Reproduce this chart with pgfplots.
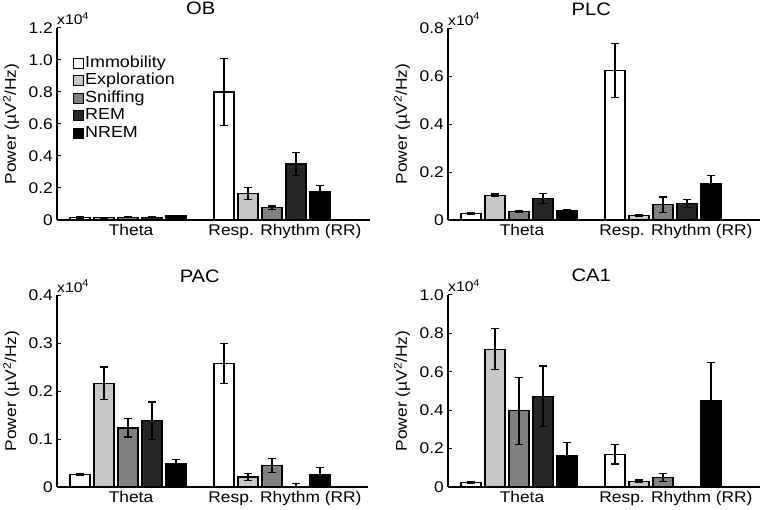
\documentclass[border=0pt]{standalone}
\usepackage{pgfplots}
\pgfplotsset{compat=1.18}
\usepackage{fontspec}
\setmainfont{Liberation Sans}[FakeStretch=1.12]
\definecolor{cImm}{gray}{1}
\definecolor{cExp}{gray}{0.78}
\definecolor{cSni}{gray}{0.50}
\definecolor{cREM}{gray}{0.15}
\definecolor{cNREM}{gray}{0}
\newcommand{\fs}{\fontsize{15.5}{18}\selectfont}
\pgfplotsset{
  mybar/.style={ybar, bar width=20pt, bar shift=0pt, fill=#1, draw=black, line width=1.2pt, forget plot,
    error bars/.cd, y dir=both, y explicit,
    error bar style={line width=1.2pt, draw=black, solid},
    error mark options={line width=1.2pt, draw=black, mark size=4pt, rotate=90}},
  panel/.style={scale only axis, height=192pt, xmin=0.507, ymin=0,
    axis x line*=bottom, axis y line*=left,
    axis line style={line width=1.2pt, -},
    xtick={1.021,2.09}, xticklabels={\mbox{Theta}, \mbox{Resp. Rhythm (RR)}},
    xtick style={draw=none},
    ytick style={line width=1pt, black},
    tick align=inside, major tick length=3.5pt,
    clip=false,
    font=\fs,
    every tick label/.append style={font=\fs},
    yticklabel style={inner sep=0pt, xshift=-4pt, font=\fs},
    xticklabel style={inner sep=0pt, yshift=-4pt, font=\fs},
    ylabel={Power (µV\textsuperscript{2}/Hz)},
    every axis y label/.style={at={(axis description cs:-0.147,0.5)}, rotate=90, anchor=center, font=\fs},
    every axis title/.style={at={(axis description cs:0.459,1)}, anchor=base, yshift=13pt, inner sep=0pt, font=\fontsize{18}{21}\selectfont},
  },
}
\newcommand{\mult}{\node[anchor=base west, inner sep=0pt, yshift=3pt, font=\fontsize{14}{16}\selectfont] at (rel axis cs:0,1) {x10\textsuperscript{4}};}
\begin{document}
\begin{tikzpicture}
\path[use as bounding box] (0,0) rectangle (760pt,509pt);
% ---------------- OB
\begin{axis}[panel, at={(57pt,289pt)}, anchor=south west, width=313pt, xmax=2.68,
  ymax=1.2, ytick={0,0.2,0.4,0.6,0.8,1.0,1.2},
  yticklabels={\mbox{0},\mbox{0.2},\mbox{0.4},\mbox{0.6},\mbox{0.8},\mbox{1.0},\mbox{1.2}},
  title={OB},
  legend style={draw=none, fill=none, at={(axis description cs:0.051,0.854)}, anchor=north west,
    inner sep=0pt, row sep=3pt, font=\fontsize{16}{18}\selectfont,
    nodes={inner ysep=0pt, inner xsep=1pt, text height=11pt, text depth=3.5pt}},
  legend cell align=left]
\addlegendimage{legend image code/.code={\draw[fill=cImm,draw=black,line width=1pt] (0pt,-5pt) rectangle (10pt,5pt);}}
\addlegendentry{Immobility}
\addlegendimage{legend image code/.code={\draw[fill=cExp,draw=black,line width=1pt] (0pt,-5pt) rectangle (10pt,5pt);}}
\addlegendentry{Exploration}
\addlegendimage{legend image code/.code={\draw[fill=cSni,draw=black,line width=1pt] (0pt,-5pt) rectangle (10pt,5pt);}}
\addlegendentry{Sniffing}
\addlegendimage{legend image code/.code={\draw[fill=cREM,draw=black,line width=1pt] (0pt,-5pt) rectangle (10pt,5pt);}}
\addlegendentry{REM}
\addlegendimage{legend image code/.code={\draw[fill=cNREM,draw=black,line width=1pt] (0pt,-5pt) rectangle (10pt,5pt);}}
\addlegendentry{NREM}
\addplot[mybar=cImm] coordinates {(0.6667,0.017) +- (0,0.004) (1.6667,0.80) +- (0,0.21)};
\addplot[mybar=cExp] coordinates {(0.8333,0.015) +- (0,0.003) (1.8333,0.167) +- (0,0.037)};
\addplot[mybar=cSni] coordinates {(1.0,0.018) +- (0,0.004) (2.0,0.077) +- (0,0.011)};
\addplot[mybar=cREM] coordinates {(1.1667,0.018) +- (0,0.003) (2.1667,0.35) +- (0,0.07)};
\addplot[mybar=cNREM] coordinates {(1.3333,0.025) +- (0,0.004) (2.3333,0.18) +- (0,0.038)};
\mult
\end{axis}
% ---------------- PLC
\begin{axis}[panel, at={(448pt,289pt)}, anchor=south west, width=312pt, xmax=2.674,
  ymax=0.8, ytick={0,0.2,0.4,0.6,0.8},
  yticklabels={\mbox{0},\mbox{0.2},\mbox{0.4},\mbox{0.6},\mbox{0.8}},
  title={PLC}]
\addplot[mybar=cImm] coordinates {(0.6667,0.028) +- (0,0.004) (1.6667,0.624) +- (0,0.112)};
\addplot[mybar=cExp] coordinates {(0.8333,0.103) +- (0,0.005) (1.8333,0.018) +- (0,0.003)};
\addplot[mybar=cSni] coordinates {(1.0,0.036) +- (0,0.004) (2.0,0.064) +- (0,0.032)};
\addplot[mybar=cREM] coordinates {(1.1667,0.090) +- (0,0.020) (2.1667,0.068) +- (0,0.017)};
\addplot[mybar=cNREM] coordinates {(1.3333,0.038) +- (0,0.007) (2.3333,0.153) +- (0,0.031)};
\mult
\end{axis}
% ---------------- PAC
\begin{axis}[panel, at={(57pt,22pt)}, anchor=south west, width=311pt, xmax=2.667,
  ymax=0.4, ytick={0,0.1,0.2,0.3,0.4},
  yticklabels={\mbox{0},\mbox{0.1},\mbox{0.2},\mbox{0.3},\mbox{0.4}},
  title={PAC}]
\addplot[mybar=cImm] coordinates {(0.6667,0.026) +- (0,0.002) (1.6667,0.257) +- (0,0.042)};
\addplot[mybar=cExp] coordinates {(0.8333,0.216) +- (0,0.034) (1.8333,0.021) +- (0,0.007)};
\addplot[mybar=cSni] coordinates {(1.0,0.123) +- (0,0.019) (2.0,0.045) +- (0,0.015)};
\addplot[mybar=cREM] coordinates {(1.1667,0.138) +- (0,0.039) (2.1667,0.0) += (0,0.007) -= (0,0.0)};
\addplot[mybar=cNREM] coordinates {(1.3333,0.049) +- (0,0.009) (2.3333,0.026) +- (0,0.014)};
\mult
\end{axis}
% ---------------- CA1
\begin{axis}[panel, at={(448pt,22pt)}, anchor=south west, width=312pt, xmax=2.674,
  ymax=1.0, ytick={0,0.2,0.4,0.6,0.8,1.0},
  yticklabels={\mbox{0},\mbox{0.2},\mbox{0.4},\mbox{0.6},\mbox{0.8},\mbox{1.0}},
  title={CA1}]
\addplot[mybar=cImm] coordinates {(0.6667,0.024) +- (0,0.005) (1.6667,0.170) +- (0,0.050)};
\addplot[mybar=cExp] coordinates {(0.8333,0.717) +- (0,0.107) (1.8333,0.030) +- (0,0.006)};
\addplot[mybar=cSni] coordinates {(1.0,0.397) +- (0,0.174) (2.0,0.050) +- (0,0.020)};
\addplot[mybar=cREM] coordinates {(1.1667,0.473) +- (0,0.157) (2.1667,0.0) +- (0,0.0)};
\addplot[mybar=cNREM] coordinates {(1.3333,0.163) +- (0,0.070) (2.3333,0.449) +- (0,0.200)};
\mult
\end{axis}
\end{tikzpicture}
\end{document}
